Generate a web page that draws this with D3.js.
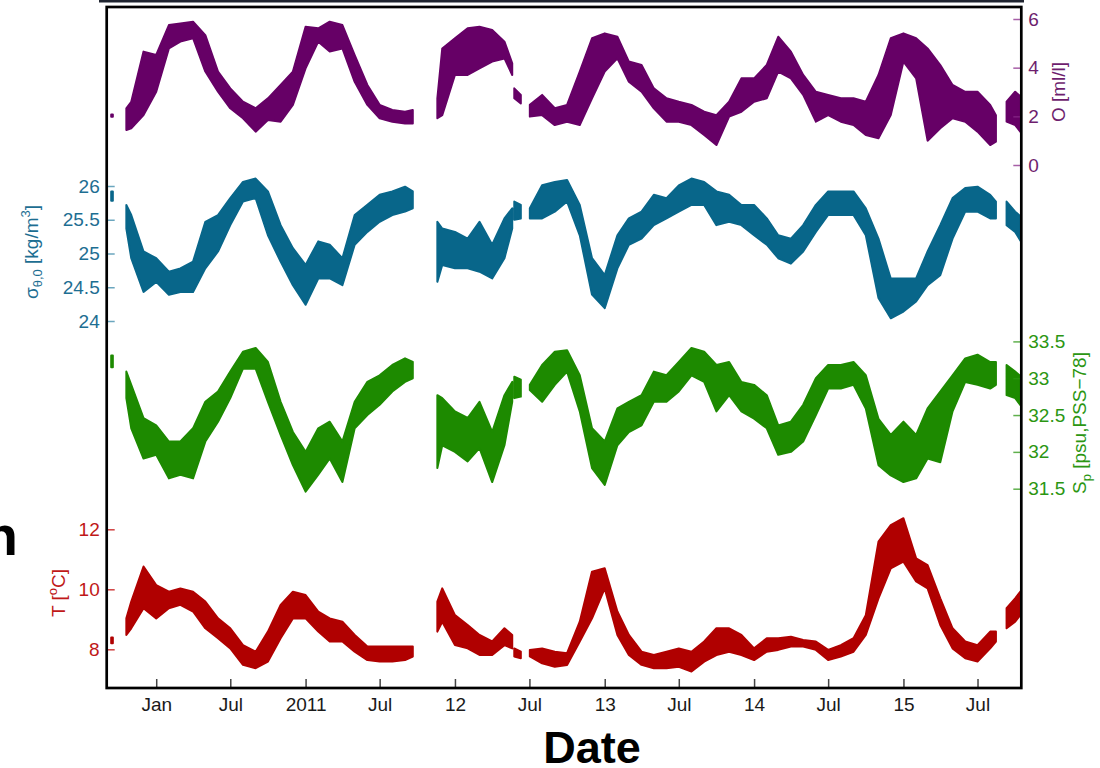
<!DOCTYPE html>
<html><head><meta charset="utf-8">
<script src="https://cdn.jsdelivr.net/npm/d3@7"></script>
<style>html,body{margin:0;padding:0;background:#fff}svg{display:block;font-family:"Liberation Sans",Arial,sans-serif}</style>
</head><body>
<svg id="c" width="1100" height="768"></svg>
<script>
// ---- data (sample dates; null values mark gaps in the record) ----
const sampleDates = [
"2009-09-13","2009-09-17","2009-10-05",
"2009-10-20","2009-11-01","2009-12-01","2010-01-01","2010-02-01","2010-03-01","2010-04-01","2010-05-01","2010-06-01","2010-07-01","2010-08-01","2010-09-01","2010-10-01","2010-11-01","2010-12-01","2011-01-01","2011-02-01","2011-03-01","2011-04-01","2011-05-01","2011-06-01","2011-07-01","2011-08-01","2011-09-01","2011-09-20",
"2011-10-20",
"2011-11-19","2011-12-01","2012-01-01","2012-02-01","2012-03-01","2012-04-01","2012-05-01","2012-05-20",
"2012-05-22",
"2012-05-25","2012-06-10",
"2012-06-20",
"2012-07-02","2012-08-01","2012-09-01","2012-10-01","2012-11-01","2012-12-01","2013-01-01","2013-02-01","2013-03-01","2013-04-01","2013-05-01","2013-06-01","2013-07-01","2013-08-01","2013-09-01","2013-10-01","2013-11-01","2013-12-01","2014-01-01","2014-02-01","2014-03-01","2014-04-01","2014-05-01","2014-06-01","2014-07-01","2014-08-01","2014-09-01","2014-10-01","2014-11-01","2014-12-01","2015-01-01","2015-02-01","2015-03-01","2015-04-01","2015-05-01","2015-06-01","2015-07-01","2015-08-01","2015-08-15",
"2015-08-28",
"2015-09-10","2015-10-01","2015-10-20"];

// Oxygen [ml/l] : upper / lower envelope of the record
const oxyHi = [2.08,2.08,null,
2.33,2.60,4.66,4.52,5.75,5.82,5.89,5.34,3.84,3.15,2.60,2.33,2.74,3.29,3.84,5.68,5.62,5.89,5.75,4.52,3.29,2.47,2.26,2.19,2.26,
null,2.74,4.79,5.21,5.62,5.68,5.55,5.07,4.18,null,3.15,2.88,null,
2.47,2.88,2.33,2.47,3.84,5.21,5.41,5.27,4.25,4.11,3.15,2.74,2.60,2.47,2.19,2.05,2.60,3.56,3.56,4.11,5.27,4.66,3.70,3.01,2.88,2.74,2.74,2.60,3.70,5.21,5.41,5.21,4.79,4.11,3.29,3.01,3.01,2.47,2.05,
null,2.60,3.01,2.74];
const oxyLo = [1.98,1.98,null,
1.44,1.51,2.05,3.01,4.79,5.07,5.21,3.84,3.01,2.33,1.92,1.37,1.85,1.78,2.47,3.97,5.07,4.66,4.79,3.42,2.47,1.92,1.78,1.71,1.71,
null,1.92,2.05,3.70,3.70,3.97,4.25,4.38,3.70,null,2.74,2.53,null,
1.99,2.05,1.64,1.78,1.64,2.74,3.84,4.38,3.42,3.01,2.33,1.78,1.78,1.64,1.23,0.82,1.99,2.19,2.60,2.74,3.84,3.56,2.88,1.78,2.05,1.78,1.64,1.23,1.10,2.05,4.25,3.56,1.00,1.51,1.92,1.78,1.37,0.82,0.96,
null,1.78,1.64,1.23];

// Potential density sigma_theta,0 [kg/m3]
const sigHi = [25.92,25.92,null,
25.72,25.57,25.03,24.93,24.73,24.78,24.88,25.47,25.57,25.82,26.06,26.11,25.92,25.42,25.08,24.83,25.18,25.13,24.93,25.57,25.72,25.87,25.92,25.99,25.92,
null,25.47,25.37,25.32,25.22,25.47,25.13,25.52,25.67,null,25.77,25.72,null,
25.67,26.01,26.06,26.09,25.72,24.93,24.68,25.27,25.52,25.62,25.87,25.82,26.01,26.11,26.06,25.92,25.87,25.72,25.72,25.52,25.27,25.22,25.42,25.72,25.92,25.92,25.92,25.67,25.22,24.63,24.63,24.63,25.03,25.42,25.82,25.97,25.99,25.87,25.77,
null,25.77,25.62,25.52];
const sigLo = [25.78,25.78,null,
25.37,24.93,24.43,24.58,24.39,24.43,24.43,24.78,25.03,25.42,25.77,25.82,25.27,24.88,24.53,24.24,24.63,24.63,24.53,25.13,25.32,25.47,25.57,25.62,25.67,
null,24.58,24.83,24.78,24.78,24.73,24.63,24.93,25.37,null,25.50,25.52,null,
25.52,25.52,25.62,25.77,25.27,24.39,24.19,24.78,25.13,25.22,25.42,25.52,25.62,25.72,25.72,25.42,25.47,25.42,25.27,25.13,24.93,24.85,25.03,25.32,25.57,25.57,25.57,25.27,24.34,24.04,24.14,24.29,24.53,24.68,25.22,25.62,25.62,25.52,25.52,
null,25.42,25.32,25.13];

// Practical salinity [psu]
const salHi = [33.31,33.31,null,
33.09,32.91,32.46,32.36,32.14,32.14,32.32,32.68,32.82,33.09,33.36,33.41,33.22,32.68,32.27,32.00,32.32,32.41,32.14,32.68,32.95,33.04,33.18,33.27,33.22,
null,32.77,32.73,32.55,32.46,32.68,32.27,32.77,32.95,null,33.02,32.98,null,
32.91,33.18,33.36,33.38,33.04,32.32,32.14,32.59,32.68,32.77,33.09,33.04,33.22,33.41,33.36,33.18,33.22,32.95,32.91,32.77,32.36,32.41,32.64,33.00,33.18,33.18,33.22,33.04,32.45,32.23,32.41,32.23,32.59,32.82,33.04,33.27,33.32,33.22,33.22,
null,33.18,33.09,33.00];
const salLo = [33.15,33.15,null,
32.73,32.32,31.91,31.96,31.64,31.69,31.64,32.14,32.41,32.73,33.13,33.13,32.68,32.23,31.82,31.46,31.69,31.91,31.59,32.32,32.50,32.64,32.82,32.95,33.00,
null,31.78,32.09,32.00,31.87,32.05,31.59,32.09,32.68,null,32.73,32.75,null,
32.84,32.68,32.91,33.09,32.55,31.78,31.55,32.09,32.27,32.36,32.68,32.68,32.82,33.04,32.95,32.55,32.77,32.55,32.45,32.32,31.96,32.00,32.14,32.50,32.86,32.86,32.91,32.59,31.82,31.68,31.59,31.64,31.91,31.86,32.55,32.95,32.91,32.86,32.91,
null,32.77,32.73,32.59];

// Temperature [oC]
const temHi = [8.39,8.39,null,
9.03,9.59,10.76,10.14,9.92,10.03,9.92,9.59,9.03,8.70,8.14,7.92,8.59,9.48,9.92,9.81,9.26,9.03,8.92,8.48,8.09,8.09,8.09,8.09,8.09,
null,9.59,10.03,9.14,8.81,8.48,8.26,8.70,8.48,null,8.03,7.92,null,
7.98,8.03,7.92,7.87,8.92,10.59,10.70,9.26,8.48,7.92,7.81,7.92,8.03,7.92,8.26,8.70,8.70,8.48,8.03,8.37,8.37,8.42,8.31,8.26,7.98,8.14,8.37,9.14,11.59,12.14,12.37,11.03,10.81,9.70,8.70,8.26,8.14,8.59,8.59,
null,9.37,9.70,10.03];
const temLo = [8.20,8.20,null,
8.48,8.70,9.37,9.03,9.37,9.48,9.26,8.70,8.37,8.03,7.48,7.37,7.59,8.37,9.03,9.03,8.59,8.26,8.26,7.92,7.64,7.59,7.59,7.64,7.76,
null,8.59,8.92,8.14,8.03,7.81,7.81,8.14,8.03,null,7.76,7.70,null,
7.76,7.53,7.42,7.48,8.26,9.03,10.03,8.48,7.81,7.48,7.37,7.37,7.42,7.26,7.59,7.81,7.92,7.81,7.64,7.92,7.98,8.09,8.09,7.98,7.64,7.76,7.92,8.48,9.70,10.70,10.92,10.26,10.03,8.81,8.03,7.70,7.59,8.03,8.26,
null,8.70,8.92,9.26];

// axis ticks
const xTickDates = ["2010-01-01","2010-07-01","2011-01-01","2011-07-01","2012-01-01","2012-07-01","2013-01-01","2013-07-01","2014-01-01","2014-07-01","2015-01-01","2015-07-01"];
const xTickLabels = ["Jan","Jul","2011","Jul","12","Jul","13","Jul","14","Jul","15","Jul"];
const oxyTicks = [0,2,4,6];
const sigTicks = [24,24.5,25,25.5,26];
const salTicks = [31.5,32,32.5,33,33.5];
const temTicks = [8,10,12];

// ---- drawing ----
const parse = d3.utcParse("%Y-%m-%d");
const svg = d3.select("#c");
const L = 106.7, R = 1021.3, T = 7, B = 688;

const x = d3.scaleUtc().domain([parse("2009-09-02"), parse("2015-10-16")]).range([L, R]);
const yO = d3.scaleLinear().domain([0,6]).range([165,19]);
const yS = d3.scaleLinear().domain([24,26]).range([321,186]);
const yP = d3.scaleLinear().domain([31.5,33.5]).range([488.7,341.4]);
const yT = d3.scaleLinear().domain([8,12]).range([649.3,529.3]);

svg.append("defs").append("clipPath").attr("id","clip")
  .append("rect").attr("x",L+1).attr("y",T+1).attr("width",R-L-2).attr("height",B-T-2);

// top rule of the figure
svg.append("line").attr("x1",99).attr("x2",1024).attr("y1",1).attr("y2",1)
  .attr("stroke","#1f2430").attr("stroke-width",3);

const series = [
  {lo:oxyLo, hi:oxyHi, y:yO, color:"#660066"},
  {lo:sigLo, hi:sigHi, y:yS, color:"#08668a"},
  {lo:salLo, hi:salHi, y:yP, color:"#1d8a00"},
  {lo:temLo, hi:temHi, y:yT, color:"#b00000"}
];
const gData = svg.append("g").attr("clip-path","url(#clip)");
series.forEach(s => {
  const rows = sampleDates.map((d,i) => ({t: parse(d), lo: s.lo[i], hi: s.hi[i]}));
  const area = d3.area().defined(d => d.lo != null)
    .x(d => x(d.t)).y0(d => s.y(d.lo)).y1(d => s.y(d.hi));
  gData.append("path").datum(rows).attr("d", area)
    .attr("fill", s.color).attr("stroke", s.color)
    .attr("stroke-width", 2).attr("stroke-linejoin","round");
});

// y axes
function yAxis(scale, ticks, side, color, textColor){
  const ax = (side === "left" ? d3.axisLeft(scale) : d3.axisRight(scale))
    .tickValues(ticks).tickFormat(d3.format("")).tickSize(-8).tickPadding(7);
  const g = svg.append("g").attr("transform", `translate(${side==="left"?L:R},0)`).call(ax);
  g.select(".domain").remove();
  g.selectAll(".tick line").attr("stroke", color).attr("stroke-width",1.5).attr("opacity",0.75);
  g.selectAll(".tick text").attr("fill", textColor).attr("font-size",19)
    .attr("font-family",'"Liberation Sans",Arial,sans-serif');
}
yAxis(yO, oxyTicks, "right", "#8a2a8a", "#6e1e6e");
yAxis(yS, sigTicks, "left", "#3a88a8", "#1d6e92");
yAxis(yP, salTicks, "right", "#2b9612", "#2b9612");
yAxis(yT, temTicks, "left", "#c00000", "#c01818");

// x axis
const xa = d3.axisBottom(x).tickValues(xTickDates.map(parse))
  .tickFormat((d,i) => xTickLabels[i]).tickSize(-9).tickPadding(10);
const gx = svg.append("g").attr("transform",`translate(0,${B})`).call(xa);
gx.select(".domain").remove();
gx.selectAll(".tick line").attr("stroke","#444").attr("stroke-width",1.5);
gx.selectAll(".tick text").attr("fill","#1a1a1a").attr("font-size",19)
  .attr("font-family",'"Liberation Sans",Arial,sans-serif');

// frame
svg.append("rect").attr("x",L).attr("y",T).attr("width",R-L).attr("height",B-T)
  .attr("fill","none").attr("stroke","#000").attr("stroke-width",2.7);

// axis titles (rotated)
function rLabel(tx, ty, color, parts){
  const t = svg.append("text").attr("transform",`translate(${tx},${ty}) rotate(-90)`)
    .attr("text-anchor","middle").attr("fill",color).attr("font-size",19);
  parts.forEach(p => {
    const ts = t.append("tspan").text(p.s);
    if (p.size) ts.attr("font-size", p.size);
    if (p.dy) ts.attr("dy", p.dy);
  });
}
rLabel(1065, 92, "#6e1e6e", [{s:"O [ml/l]"}]);
rLabel(38, 252, "#1d6e92", [{s:"σ"},{s:"θ,0",size:13,dy:4},{s:" [kg/m",dy:-4},{s:"3",size:13,dy:-8},{s:"]",dy:8}]);
rLabel(1086, 423, "#2b9612", [{s:"S"},{s:"p",size:13,dy:5},{s:" [psu,PSS−78]",dy:-5}]);
rLabel(65, 593, "#c01818", [{s:"T ["},{s:"o",size:13,dy:-8},{s:"C]",dy:8}]);

// outer titles
svg.append("text").attr("x",592).attr("y",763).attr("text-anchor","middle")
  .attr("font-size",45).attr("font-weight","bold").attr("fill","#000").text("Date");
svg.append("text").attr("x",18).attr("y",555).attr("text-anchor","end")
  .attr("font-size",56).attr("font-weight","bold").attr("fill","#000").text("n");
</script>
</body></html>
